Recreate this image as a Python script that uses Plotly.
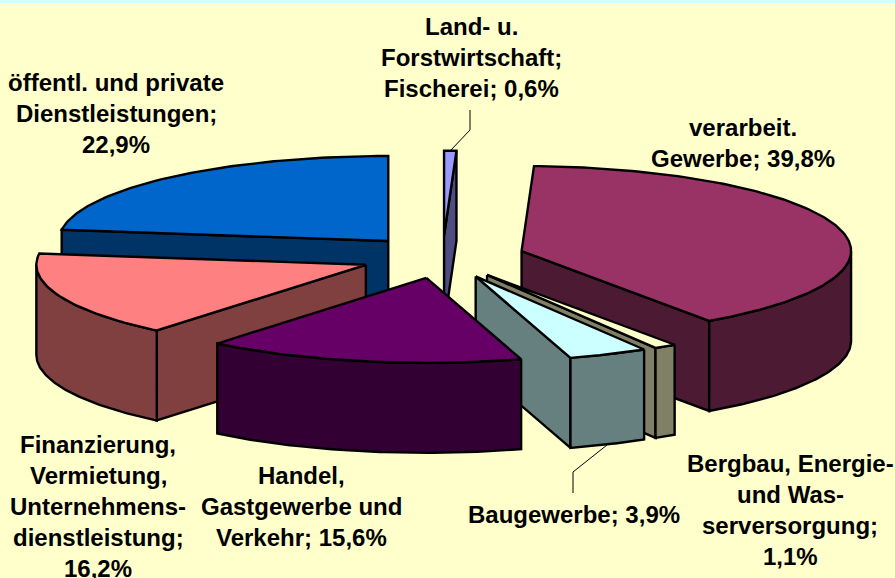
import numpy as np
import plotly.graph_objects as go

# ---- data (clockwise from 12 o'clock) ----
categories = ["Land- u. Forstwirtschaft; Fischerei", "verarbeit. Gewerbe",
              "Bergbau, Energie- und Wasserversorgung", "Baugewerbe",
              "Handel, Gastgewerbe und Verkehr",
              "Finanzierung, Vermietung, Unternehmensdienstleistung",
              "öffentl. und private Dienstleistungen"]
shares = [0.6, 39.8, 1.1, 3.9, 15.6, 16.2, 22.9]
top_colors = ["#9999FF", "#993366", "#FFFFCC", "#CCFFFF", "#660066", "#FF8080", "#0066CC"]
side_colors = ["#4D4D80", "#4D1A33", "#808066", "#668080", "#330033", "#804040", "#003366"]

label_lines = [
    ["Land- u.", "Forstwirtschaft;", "Fischerei; 0,6%"],
    ["verarbeit.", "Gewerbe; 39,8%"],
    ["Bergbau, Energie-", "und Was-", "serversorgung;", "1,1%"],
    ["Baugewerbe; 3,9%"],
    ["Handel,", "Gastgewerbe und", "Verkehr; 15,6%"],
    ["Finanzierung,", "Vermietung,", "Unternehmens-", "dienstleistung;", "16,2%"],
    ["öffentl. und private", "Dienstleistungen;", "22,9%"],
]
label_x = [471, 743, 790, 574, 301, 98, 116]
label_y = [26, 127, 463, 514, 475, 444, 82]
LINE_H = 31

# ---- pie geometry ----
CX, CY, RX, RY, DEPTH, EXPLODE = 442.5, 257, 329.5, 85, 90, 0.25
BG = "#FFFFCC"
EDGE = "#000000"


def pt(theta, apex):
    return apex[0] + RX * np.sin(theta), apex[1] - RY * np.cos(theta)


fig = go.Figure()


def face(xs, ys, color):
    fig.add_trace(go.Scatter(x=list(xs) + [xs[0]], y=list(ys) + [ys[0]], mode="lines",
                             fill="toself", fillcolor=color,
                             line=dict(color=EDGE, width=2.4),
                             hoverinfo="skip", showlegend=False))


total = sum(shares)
edges = np.concatenate([[0], np.cumsum(shares)]) / total * 2 * np.pi
slices = []
for i in range(len(shares)):
    a, b = edges[i], edges[i + 1]
    mid = (a + b) / 2
    apex = (CX + EXPLODE * RX * np.sin(mid), CY - EXPLODE * RY * np.cos(mid))
    slices.append((apex[1], i, a, b, apex))

# painter's order: from the back of the picture to the front
for _, i, a, b, apex in sorted(slices, key=lambda s: s[0]):
    side = side_colors[i]
    # cut faces that look towards the viewer
    for ang, visible in ((a, np.sin(a) < 0), (b, np.sin(b) > 0)):
        if visible:
            x, y = pt(ang, apex)
            face([apex[0], x, x, apex[0]], [apex[1], y, y + DEPTH, apex[1] + DEPTH], side)
    # outer wall, only on the front half of the ellipse
    lo, hi = max(a, np.pi / 2), min(b, 3 * np.pi / 2)
    if hi > lo:
        t = np.linspace(lo, hi, 80)
        x, y = pt(t, apex)
        face(np.r_[x, x[::-1]], np.r_[y, (y + DEPTH)[::-1]], side)
    # top face
    t = np.linspace(a, b, max(4, int((b - a) * 60)))
    x, y = pt(t, apex)
    face(np.r_[apex[0], x], np.r_[apex[1], y], top_colors[i])

# leader lines
for lx, ly in (([470, 470, 451], [110, 130, 150]), ([607, 573, 573], [445, 472, 493])):
    fig.add_trace(go.Scatter(x=lx, y=ly, mode="lines", line=dict(color=EDGE, width=1),
                             hoverinfo="skip", showlegend=False))

# labels
for lines, x0, y0 in zip(label_lines, label_x, label_y):
    for k, line in enumerate(lines):
        fig.add_annotation(x=x0, y=y0 + k * LINE_H, text=f"<b>{line}</b>", showarrow=False,
                           xanchor="center", yanchor="middle",
                           font=dict(family="Liberation Sans", size=24, color="#000000"))

fig.update_layout(
    width=895, height=578, margin=dict(l=0, r=0, t=0, b=0),
    paper_bgcolor=BG, plot_bgcolor=BG, showlegend=False,
    xaxis=dict(range=[0, 895], visible=False, fixedrange=True),
    yaxis=dict(range=[578, 0], visible=False, fixedrange=True),
    shapes=[dict(type="rect", xref="paper", yref="paper", x0=0, x1=1, y0=1 - 3 / 578, y1=1,
                 fillcolor="#CCFFFF", line_width=0, layer="below")],
)
fig.write_html("out.html", config={"displayModeBar": False},
               post_script="document.body.style.margin='0';document.body.style.overflow='hidden';")
